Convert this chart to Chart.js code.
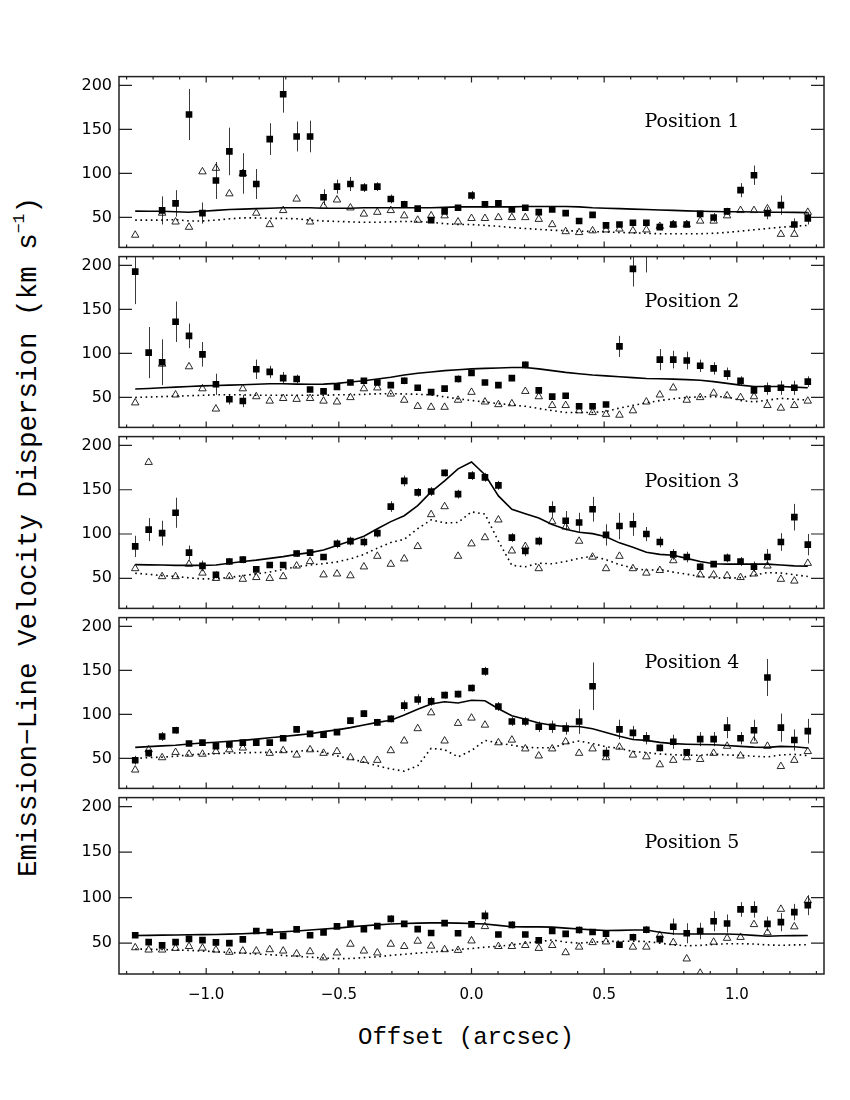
<!DOCTYPE html>
<html>
<head>
<meta charset="utf-8">
<script src="https://cdn.jsdelivr.net/npm/chart.js@4.4.0/dist/chart.umd.min.js"></script>
<style>
  html, body { margin:0; padding:0; background:#fff; }
  body { width:850px; height:1100px; position:relative; overflow:hidden; }
  canvas { position:absolute; left:0; }
  .ytitle { position:absolute; left:28px; top:537px; transform:translate(-50%,-50%) rotate(-90deg);
            white-space:nowrap; font-family:"Liberation Mono", monospace; font-size:27.5px; color:#000; }
  .ytitle sup { font-size:0.6em; vertical-align:0.7em; line-height:0; }
  .xtitle { position:absolute; left:466px; top:1037px; transform:translate(-50%,-50%);
            white-space:nowrap; font-family:"Liberation Mono", monospace; font-size:24px; color:#000; }
</style>
</head>
<body>
<div class="ytitle">Emission−Line Velocity Dispersion (km s<sup>−1</sup>)</div>
<div class="xtitle">Offset (arcsec)</div>
<script>
// ---------- DATA ----------
const offsets = [-1.2675,-1.2168,-1.1661,-1.1154,-1.0647,-1.0140,-0.9633,-0.9126,-0.8619,-0.8112,
  -0.7605,-0.7098,-0.6591,-0.6084,-0.5577,-0.5070,-0.4563,-0.4056,-0.3549,-0.3042,
  -0.2535,-0.2028,-0.1521,-0.1014,-0.0507,0,0.0507,0.1014,0.1521,0.2028,
  0.2535,0.3042,0.3549,0.4056,0.4563,0.5070,0.5577,0.6084,0.6591,0.7098,
  0.7605,0.8112,0.8619,0.9126,0.9633,1.0140,1.0647,1.1154,1.1661,1.2168,1.2675];

const panelLabels = ["Position 1","Position 2","Position 3","Position 4","Position 5"];
const yTickValues = [50,100,150,200];
const xTickLabels = ["−1.0","−0.5","0.0","0.5","1.0"];

// Position 1
const p1Squares = [null,null,58,66,167,55,92,125,100,88,139,190,142,142,73,85,88,84,85,71,65,60,47,57,61,75,65,66,59,61,56,59,55,46,53,41,42,44,44,39,42,42,54,50,57,81,98,55,64,42,49];
const p1Errors  = [0,0,16,15,29,12,21,27,23,17,18,21,17,18,9,8,8,5,5,5,4,3,3,3,3,5,3,3,3,3,3,3,3,3,3,3,3,3,3,3,3,3,3,5,4,8,11,7,11,7,7];
const p1Triangles = [30,null,55,45,39,102,106,77,100,55,42,58,71,45,63,70,61,54,56,58,52,47,52,52,45,49,49,50,50,50,48,42,34,33,35,36,37,35,36,40,42,42,46,46,52,58,58,60,31,31,56];
const p1Solid = [57.2,57,57,56.5,56,57,58,59,59.5,60,60.5,61,61,61,60.5,60.5,60.5,61,61,61,61,61,61,61.5,62,62,62,62,62,62.5,62.5,62.5,62.5,62,61,60.5,60,59.5,59,58.5,58,57.5,57,56.8,56.5,56.5,56.2,56,56,55.8,55.5];
const p1Dotted = [47,47,47,47.5,46,46,47,48.5,49.5,49.5,49,49,48.5,47,46,45.5,45,44.5,44.5,45,45.5,45.5,44.5,43,42,42,41,40,38.5,37.5,36.5,35.5,35,34.5,34,33.5,33,32.5,32,31.5,31.5,31.5,31.5,32,33,34.5,36,37.5,39,40,41];

// Position 2
const p2Squares = [193,101,90,136,120,99,65,48,46,82,79,72,71,59,57,62,67,69,67,64,69,61,56,60,71,78,67,64,72,87,58,51,52,40,40,42,108,196,214,93,93,92,86,83,77,69,58,60,61,61,68];
const p2Errors  = [37,29,26,23,14,14,12,6,7,11,7,7,5,3,3,3,3,3,3,3,4,3,3,3,4,3,3,3,3,4,3,3,3,3,3,3,12,20,22,12,10,10,7,7,7,5,3,7,8,8,6];
const p2Triangles = [44,null,88,53,85,60,37,null,60,51,46,49,48,49,46,45,50,60,61,54,47,40,39,39,47,56,45,42,43,57,51,41,41,35,33,31,30,35,45,53,61,47,50,55,52,50,51,41,38,41,46];
const p2Solid = [59.6,60.2,61,61.8,62.5,63.2,63.6,64,64.5,65,65.5,65.5,65.2,65,65.2,66,67.5,69,71,73,75.5,77.5,79,80.5,81.5,82.5,83,83.5,84,84,82.5,80.5,78.5,77,75.5,74.5,73.5,72.5,71.5,71.2,70.8,70.3,69.6,68,66,64,62.5,62.5,62.5,61.8,61];
const p2Dotted = [50,50.5,51,51.5,52,52.5,53,53,53,52.5,52.5,52.5,52.5,52.5,52.5,53,53,53.5,54.2,54.3,54,53.6,53,50.7,48.5,46.5,45,43,41.5,40,37.5,35,33,32.9,33,34,38,41,44,46.5,48.5,50,50.7,51,50.7,46.5,45,47,49,48,47];

// Position 3
const p3Squares = [86,105,101,124,79,64,54,69,71,60,65,65,78,79,74,89,92,91,101,131,160,147,148,169,145,166,164,155,96,81,92,128,115,113,128,99,109,111,100,91,77,74,63,66,73,69,63,74,91,119,88];
const p3Errors  = [12,13,14,17,8,6,4,4,4,3,3,3,4,4,3,5,5,5,5,6,6,5,5,4,5,5,5,5,5,6,5,9,11,11,14,12,15,13,8,6,6,6,4,3,5,5,6,9,10,15,12];
const p3Triangles = [61,181,52,52,66,56,50,52,49,51,50,52,64,69,54,55,53,63,75,66,72,86,122,131,75,89,96,116,81,86,61,114,108,92,74,61,75,61,56,59,70,null,54,54,53,51,55,64,49,47,67];
const p3Solid = [65.4,65.2,65,64.6,64.6,64.6,65,67,69,70.5,72.5,74.5,77,79,82,87,92,97.5,106,114,120.7,132,147.5,160,173.6,181.4,167,143,128,123,118,110.7,105.4,102,100.4,97,90,85,79.5,77,76,72.5,69,66.4,66,66,66,66,65,64,63.6];
const p3Dotted = [55.7,54.5,53,52,50.5,49.3,49.5,51,53,55,57,60,63,65,66.5,68.5,72,77,84,90.4,94,106,116,112.5,113,125,122.5,92,64.6,63,67,66.4,69,72.5,75,71,65.5,61.5,59,60,57,54.6,52,50.4,50,50.7,53.6,56.4,56,54,52];

// Position 4
const p4Squares = [48,56,75,82,67,68,64,66,68,68,68,73,83,78,77,80,93,101,91,95,110,117,115,122,123,130,149,109,92,92,86,86,84,92,132,56,83,79,73,62,69,57,72,72,85,73,82,142,85,71,81];
const p4Errors  = [5,4,5,4,3,3,3,3,3,3,3,3,4,3,3,3,4,4,4,4,6,6,5,4,4,4,5,5,5,5,6,7,7,14,27,7,11,8,7,4,8,4,8,8,12,7,12,21,16,12,14];
const p4Triangles = [37,60,51,57,55,55,58,60,62,null,56,59,54,60,56,58,51,48,48,59,70,84,102,70,90,96,88,68,71,61,53,61,69,56,61,51,63,54,52,43,48,51,49,56,64,53,70,64,41,48,58];
const p4Solid = [62.6,63.5,64.3,65,66.5,67.5,68.5,69.5,70.5,72,73.5,75,76.5,78,80.5,82.5,85,88,91,93.5,99.3,105.8,111.9,114.4,113,116.2,115.5,106.5,98.6,94.6,90.3,87.8,86.3,86.3,83.8,79.5,75.2,71.6,70.5,68.3,66.9,66.2,65.8,65.5,64.7,63.7,62.9,62.6,63.7,63.3,61.9];
const p4Dotted = [50,51,51.5,52.5,54,55,55.5,56,56.5,56.8,57,57.5,58,59.5,57,53,49.5,46,41.7,38,35.6,41.7,61.5,60,51.8,59,70.5,67.6,65.1,62.6,62.2,62.2,66.9,69.8,66.9,63.3,61.5,57.9,56.8,55,54.3,53.6,53.6,55,54,53.6,52.5,51.8,54,54.7,53.2];

// Position 5
const p5Squares = [58.6,51.1,47.5,51.1,54.7,53.2,50.7,50,54,63.3,62.2,57.9,65.1,58.6,61.8,68.3,71.5,65.4,68.7,76.6,71.2,65.4,61.1,71.9,60.8,70.5,79.9,59.4,70.1,59.4,52.9,63.3,60.1,64.4,62.2,60.4,48.2,56.4,64.7,54.3,68,60.8,63.3,74,71.5,87,87,71.2,73,84.1,91.7];
const p5Errors  = [3,3,3,3,3,3,3,3,3,3,3,3,3,3,3,3,3,3,3,4,3,3,3,3,3,3,6,3,4,3,3,3,3,4,3,3,3,4,4,4,9,11,9,11,10,8,9,8,10,9,11];
const p5Triangles = [45,42.5,42.5,44.3,46.4,44.6,42.5,40,41.4,41.4,42.9,41.4,38.2,40.7,33.9,39.3,48.9,41.4,39.3,48.9,46.4,52.2,46.8,42.9,42.1,52.5,68.3,46.4,46.4,47.5,44.3,47.5,39.6,45.7,50.7,51.4,null,45.7,45.7,58.6,50.7,32.7,17,51.1,55.4,56.4,70.5,61.5,87.3,68,96.7];
const p5Solid = [58.3,58.5,58.7,58.9,59.1,59.3,59.5,59.8,60.3,61,61.7,62.5,63.3,64.4,65.5,66.5,67.8,69,70,71,71.5,72,72.2,72.2,72,71.5,71,69.5,68,67.8,67.8,67.5,66.5,65.5,64.5,63.8,64,64.4,64.4,62,60.3,60,60,60,60,59.5,58.5,57.5,58,58.2,58.3];
const p5Dotted = [43.5,43.2,42.9,42.5,42,41.3,40.5,39.7,39,38,37.2,36.4,35.5,34.5,33.5,32.9,33,34,35,36.5,37.7,39,40,41.5,43,44,45.5,46.5,48,50,51.5,53.5,51,50,51,51.8,52,52,51.8,50,48,47,47.5,48.5,49.3,49.3,49,48,47.5,48,48.2];

// ---------- LAYOUT ----------
const X_MIN = -1.3286, X_MAX = 1.3286, Y_MIN = 16, Y_MAX = 210;
const panelTops = [77, 257, 437, 618, 798];
const panelHeights = [180, 180, 181, 180, 181];
const PAD = 12, AXIS_LEFT = 119, PAD_RIGHT = 26, XAXIS_H = 40, BOTTOM_EXTRA = 10;

const panels = [
  {sq:p1Squares, err:p1Errors, tri:p1Triangles, solid:p1Solid, dot:p1Dotted},
  {sq:p2Squares, err:p2Errors, tri:p2Triangles, solid:p2Solid, dot:p2Dotted},
  {sq:p3Squares, err:p3Errors, tri:p3Triangles, solid:p3Solid, dot:p3Dotted},
  {sq:p4Squares, err:p4Errors, tri:p4Triangles, solid:p4Solid, dot:p4Dotted},
  {sq:p5Squares, err:p5Errors, tri:p5Triangles, solid:p5Solid, dot:p5Dotted}
];

function pts(arr) {
  const out = [];
  arr.forEach((v, i) => { if (v !== null) out.push({x: offsets[i], y: v}); });
  return out;
}

function panelPlugin(p, label) {
  return {
    id: 'panelDecor',
    beforeDatasetsDraw(chart) {
      const {ctx, chartArea: a, scales: {x, y}} = chart;
      ctx.save();
      ctx.beginPath();
      ctx.rect(a.left, a.top, a.right - a.left, a.bottom - a.top);
      ctx.clip();
      ctx.strokeStyle = '#3a3a3a';
      ctx.lineWidth = 1;
      p.sq.forEach((v, i) => {
        if (v === null || !p.err[i]) return;
        const px = Math.round(x.getPixelForValue(offsets[i])) + 0.5;
        ctx.beginPath();
        ctx.moveTo(px, y.getPixelForValue(v - p.err[i]));
        ctx.lineTo(px, y.getPixelForValue(v + p.err[i]));
        ctx.stroke();
      });
      ctx.restore();
    },
    afterDraw(chart) {
      const {ctx, chartArea: a, scales: {x, y}} = chart;
      ctx.save();
      ctx.strokeStyle = '#222';
      ctx.lineWidth = 1.5;
      ctx.strokeRect(a.left, a.top, a.right - a.left, a.bottom - a.top);
      ctx.lineWidth = 1.2;
      for (let t = -13; t <= 13; t++) {
        const px = x.getPixelForValue(t / 10);
        const len = (t % 5 === 0) ? 6 : 3;
        ctx.beginPath();
        ctx.moveTo(px, a.top); ctx.lineTo(px, a.top + len);
        ctx.moveTo(px, a.bottom); ctx.lineTo(px, a.bottom - len);
        ctx.stroke();
      }
      yTickValues.forEach(v => {
        const py = y.getPixelForValue(v);
        ctx.beginPath();
        ctx.moveTo(a.left, py); ctx.lineTo(a.left + 13, py);
        ctx.moveTo(a.right, py); ctx.lineTo(a.right - 13, py);
        ctx.stroke();
      });
      ctx.fillStyle = '#000';
      ctx.font = '19px "DejaVu Serif"';
      ctx.textAlign = 'center';
      ctx.textBaseline = 'alphabetic';
      ctx.fillText(label, a.left + 0.8127 * (a.right - a.left), a.top + 50);
      ctx.restore();
    }
  };
}

panels.forEach((p, idx) => {
  const last = idx === panels.length - 1;
  const h = PAD + panelHeights[idx] + (last ? XAXIS_H + BOTTOM_EXTRA : PAD);
  const cv = document.createElement('canvas');
  cv.width = 850; cv.height = h;
  cv.style.width = '850px'; cv.style.height = h + 'px';
  cv.style.top = (panelTops[idx] - PAD) + 'px';
  document.body.appendChild(cv);

  const chart = new Chart(cv.getContext('2d'), {
    type: 'scatter',
    data: {
      datasets: [
        { type: 'scatter', data: pts(p.sq), pointStyle: 'rect', pointRadius: 4.7,
          backgroundColor: '#000', borderWidth: 0, clip: 0 },
        { type: 'scatter', data: pts(p.tri), pointStyle: 'triangle', pointRadius: 4.3,
          backgroundColor: 'rgba(0,0,0,0)', borderColor: '#111', borderWidth: 0.9, clip: 0 },
        { type: 'line', data: pts(p.solid), showLine: true, borderColor: '#000', borderWidth: 1.6,
          pointRadius: 0, tension: 0, fill: false },
        { type: 'line', data: pts(p.dot), showLine: true, borderColor: '#000', borderWidth: 1.6,
          borderDash: [1.6, 3.6], pointRadius: 0, tension: 0, fill: false }
      ]
    },
    options: {
      responsive: false, animation: false, devicePixelRatio: 1,
      events: [],
      layout: { padding: { left: 0, right: PAD_RIGHT, top: PAD, bottom: last ? BOTTOM_EXTRA : PAD } },
      plugins: { legend: { display: false }, tooltip: { enabled: false }, title: { display: false } },
      scales: {
        x: {
          type: 'linear', min: X_MIN, max: X_MAX, display: last,
          grid: { display: false, drawTicks: false }, border: { display: false },
          ticks: {
            stepSize: 0.5, includeBounds: false, padding: 12, color: '#000', maxRotation: 0,
            font: { family: 'DejaVu Sans', size: 15 },
            callback: (v) => {
              const i = [-1, -0.5, 0, 0.5, 1].findIndex(t => Math.abs(t - v) < 1e-6);
              return i >= 0 ? xTickLabels[i] : '';
            }
          },
          afterFit: (s) => { s.height = last ? XAXIS_H : 0; }
        },
        y: {
          type: 'linear', min: Y_MIN, max: Y_MAX,
          grid: { display: false, drawTicks: false }, border: { display: false },
          ticks: {
            stepSize: 50, includeBounds: false, padding: 7, color: '#000',
            font: { family: 'DejaVu Sans', size: 16 },
            callback: (v) => yTickValues.includes(v) ? String(v) : ''
          },
          afterFit: (s) => { s.width = AXIS_LEFT; }
        }
      }
    },
    plugins: [panelPlugin(p, panelLabels[idx])]
  });

  // make the plotting area land exactly on the intended panel box
  let a = chart.chartArea;
  const diffH = panelHeights[idx] - (a.bottom - a.top);
  if (Math.abs(diffH) > 0.01) {
    chart.resize(850, h + diffH);
    a = chart.chartArea;
  }
  cv.style.top = (panelTops[idx] - a.top) + 'px';
});
</script>
</body>
</html>
